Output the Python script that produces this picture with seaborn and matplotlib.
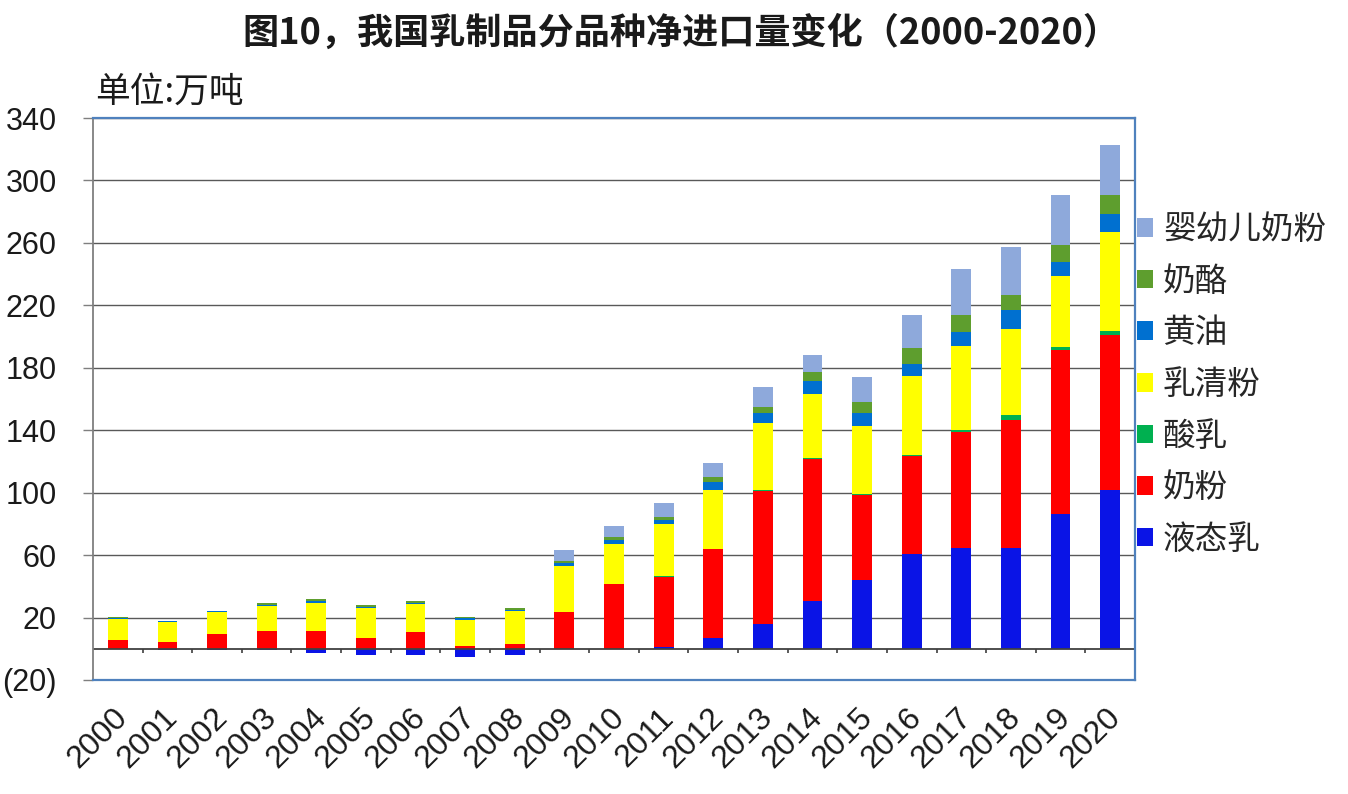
import numpy as np
import matplotlib
matplotlib.use("Agg")
import matplotlib.pyplot as plt
import matplotlib.transforms as mtransforms
from matplotlib.patches import Patch
import seaborn as sns

# -----------------------------
# Data (万吨)
# -----------------------------
years = ["2000", "2001", "2002", "2003", "2004", "2005", "2006", "2007", "2008", "2009", "2010",
         "2011", "2012", "2013", "2014", "2015", "2016", "2017", "2018", "2019", "2020"]

liquid_milk = [0, -1.0, -1.0, -1.0, -2.8, -4.3, -4.3, -5.3, -4.3, 0, 0,
               1.0, 7.2, 16.1, 30.4, 44.3, 60.9, 64.8, 64.8, 86.5, 101.9]
milk_powder = [5.8, 4.3, 9.2, 11.7, 11.7, 6.6, 10.5, 1.5, 2.8, 23.4, 41.3,
               45.0, 56.5, 85.0, 91.0, 54.2, 62.3, 74.0, 82.0, 105.2, 99.4]
yogurt = [0, 0, 0, 0, 0, 0, 0, 0.3, 0.3, 0.2, 0.2,
          0.3, 0.5, 0.8, 0.5, 0.4, 0.8, 1.2, 3.0, 1.5, 2.5]
whey = [13.2, 12.8, 14.3, 15.6, 17.9, 19.4, 18.1, 16.9, 20.9, 29.4, 25.6,
        33.4, 37.2, 43.0, 41.4, 43.5, 50.6, 53.8, 55.3, 45.4, 63.0]
butter = [0.6, 0.5, 0.5, 1.0, 1.0, 1.0, 1.0, 1.0, 1.0, 2.0, 2.5,
          3.0, 5.5, 5.9, 8.1, 8.5, 7.9, 9.4, 12.0, 9.4, 11.7]
cheese = [0.5, 0.5, 0.5, 1.1, 1.1, 0.9, 1.1, 0.9, 0.9, 1.4, 1.8,
          2.0, 3.0, 4.3, 5.8, 7.0, 10.3, 10.9, 9.6, 10.9, 12.4]
infant_formula = [0, 0, 0, 0, 0, 0, 0, 0, 0, 6.6, 7.0,
                  8.7, 9.0, 12.8, 11.3, 16.2, 21.3, 29.4, 30.5, 32.0, 32.0]

series_names = ["液态乳", "奶粉", "酸乳", "乳清粉", "黄油", "奶酪", "婴幼儿奶粉"]
series_colors = ["#0A14E6", "#FF0000", "#00B050", "#FFFF00", "#0070D0", "#5E9E2E", "#8EA9DB"]
series_values = [liquid_milk, milk_powder, yogurt, whey, butter, cheese, infant_formula]

# -----------------------------
# Style
# -----------------------------
sns.set_theme(style="white")
plt.rcParams["font.family"] = ["Noto Sans CJK SC", "DejaVu Sans"]
plt.rcParams["axes.unicode_minus"] = False

fig = plt.figure(figsize=(13.48, 7.94), dpi=100)
fig.patch.set_facecolor("white")
ax = fig.add_axes([93 / 1348, 114 / 794, (1135 - 93) / 1348, (680 - 118) / 794])

# -----------------------------
# Stacked bars: draw cumulative totals, top layer first
# -----------------------------
positive = np.clip(np.array(series_values, dtype=float), 0, None)
cumulative = np.cumsum(positive, axis=0)

for i in range(len(series_names) - 1, -1, -1):
    sns.barplot(x=years, y=cumulative[i], order=years, color=series_colors[i],
                saturation=1, width=0.4, errorbar=None, linewidth=0, ax=ax)

# negative net imports of liquid milk hang below zero
negative = np.clip(np.array(liquid_milk, dtype=float), None, 0)
sns.barplot(x=years, y=negative, order=years, color=series_colors[0],
            saturation=1, width=0.4, errorbar=None, linewidth=0, ax=ax)

# -----------------------------
# Axes
# -----------------------------
ax.set_xlim(-0.5, len(years) - 0.5)
ax.set_ylim(-20, 340)
yticks = list(range(-20, 341, 40))
ax.set_yticks(yticks)
ax.set_yticklabels([f"({-t})" if t < 0 else str(t) for t in yticks],
                   fontsize=22, family=["Liberation Sans", "DejaVu Sans"], color="#1a1a1a")
ax.tick_params(axis="y", which="major", left=True, length=7.2, width=1,
               color="#7f7f7f", pad=19)

ax.set_xticks(range(len(years)))
ax.set_xticklabels(years, fontsize=23, family=["Liberation Sans", "DejaVu Sans"],
                   color="#1a1a1a", rotation=45, ha="right", va="center",
                   rotation_mode="anchor")
ax.tick_params(axis="x", length=0, pad=24)
shift = mtransforms.ScaledTranslation(4 / 72, 0, fig.dpi_scale_trans)
for lab in ax.get_xticklabels():
    lab.set_transform(lab.get_transform() + shift)

ax.set_xlabel("")
ax.set_ylabel("")

ax.yaxis.grid(True, color="#595959", linewidth=1.0)
ax.xaxis.grid(False)
ax.set_axisbelow(True)

# zero line with category separators
ax.axhline(0, color="#404040", linewidth=1.3, zorder=1.5)
ax.vlines(np.arange(0.5, len(years) - 1, 1), -2.4, 0, color="#404040", linewidth=1.2)

for side in ["top", "right", "bottom"]:
    ax.spines[side].set_color("#4F81BD")
    ax.spines[side].set_linewidth(1.6)
ax.spines["left"].set_color("#7f7f7f")
ax.spines["left"].set_linewidth(1.3)

# -----------------------------
# Legend (top layer listed first)
# -----------------------------
handles = [Patch(facecolor=series_colors[i], edgecolor="none", label=series_names[i])
           for i in range(len(series_names) - 1, -1, -1)]
ax.legend(handles=handles, loc="center left", bbox_to_anchor=(1.0, 0.525),
          frameon=False, fontsize=23.5, handlelength=0.5, handleheight=0.5,
          handletextpad=0.3, labelspacing=0.6, borderpad=0, borderaxespad=0.05)

# -----------------------------
# Titles
# -----------------------------
fig.text(681 / 1348, 1 - 33 / 794, "图10，我国乳制品分品种净进口量变化（2000-2020）",
         ha="center", va="center", fontsize=26, fontweight="bold", color="#1a1a1a")
fig.text(95 / 1348, 1 - 92 / 794, "单位:万吨", ha="left", va="center",
         fontsize=25, color="#1a1a1a")

fig.savefig("out.png", dpi=100, facecolor="white")
